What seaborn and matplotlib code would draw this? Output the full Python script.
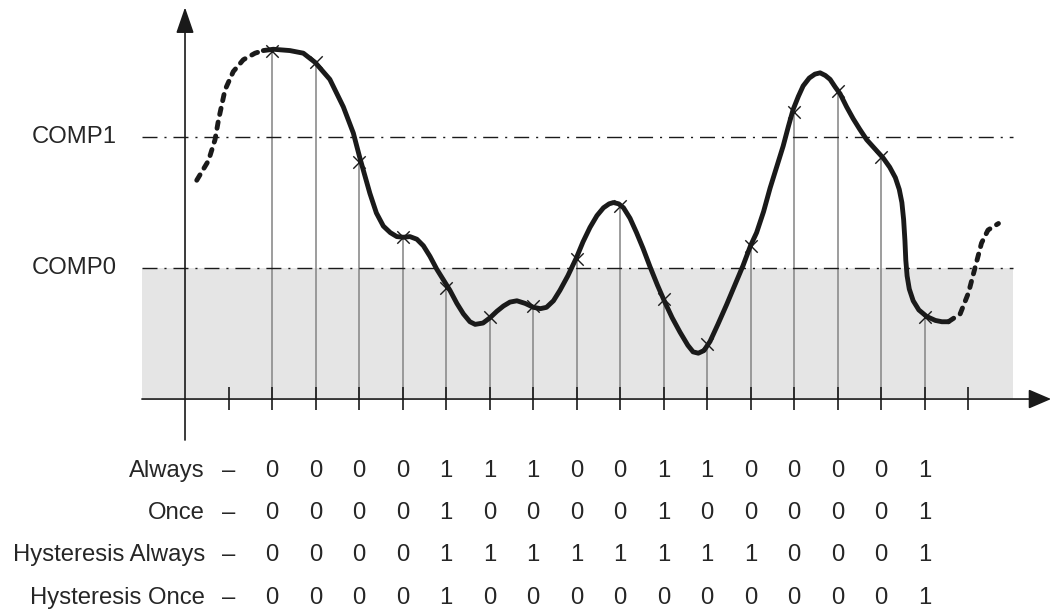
import matplotlib.pyplot as plt
import seaborn as sns

# sample instants (tick index) and sampled level, in units where COMP0 = 1, COMP1 = 2
sample_idx = list(range(2, 18))
sample_val = [2.66, 2.57, 1.81, 1.24, 0.85, 0.63, 0.71, 1.07,
              1.47, 0.76, 0.42, 1.17, 2.19, 2.35, 1.85, 0.63]

# traced analog signal: dashed lead-in, solid part, dashed lead-out
lead_in_x = [0.27, 0.54, 0.69, 0.77, 0.92, 1.11, 1.34, 1.61, 1.80]
lead_in_y = [1.67, 1.82, 1.98, 2.13, 2.36, 2.50, 2.59, 2.64, 2.66]

signal_x = [1.80, 2.03, 2.41, 2.72, 2.99, 3.33, 3.64, 3.87, 4.02, 4.25,
            4.40, 4.56, 4.72, 4.87, 5.02, 5.17, 5.33, 5.48, 5.63, 5.79,
            6.09, 6.25, 6.40, 6.55, 6.67, 6.85, 7.01, 7.17, 7.32, 7.47,
            7.63, 7.82, 8.01, 8.17, 8.31, 8.47, 8.62, 8.80, 9.00, 9.15,
            9.31, 9.47, 9.62, 9.75, 9.85, 9.97, 10.08, 10.23, 10.38, 10.53,
            10.69, 10.86, 11.03, 11.20, 11.38, 11.56, 11.68, 11.80, 11.93, 12.07,
            12.25, 12.45, 12.64, 12.83, 13.00, 13.14, 13.30, 13.45, 13.60, 13.75,
            13.87, 13.98, 14.10, 14.21, 14.35, 14.48, 14.60, 14.72, 14.83, 14.95,
            15.06, 15.21, 15.36, 15.51, 15.67, 15.86, 16.05, 16.20, 16.33, 16.42,
            16.48, 16.52, 16.55, 16.57, 16.60, 16.65, 16.74, 16.87, 17.05, 17.25,
            17.40, 17.55]
signal_y = [2.66, 2.67, 2.66, 2.64, 2.57, 2.44, 2.23, 2.03, 1.84, 1.57,
            1.42, 1.32, 1.27, 1.24, 1.235, 1.24, 1.22, 1.17, 1.09, 0.99,
            0.83, 0.73, 0.65, 0.59, 0.57, 0.58, 0.62, 0.67, 0.71, 0.74,
            0.75, 0.73, 0.70, 0.69, 0.70, 0.75, 0.83, 0.94, 1.08, 1.20,
            1.31, 1.40, 1.46, 1.49, 1.50, 1.49, 1.46, 1.38, 1.27, 1.15,
            1.01, 0.87, 0.74, 0.62, 0.51, 0.41, 0.36, 0.35, 0.37, 0.44,
            0.57, 0.72, 0.87, 1.02, 1.17, 1.27, 1.43, 1.61, 1.77, 1.93,
            2.08, 2.21, 2.31, 2.39, 2.45, 2.48, 2.49, 2.47, 2.44, 2.38,
            2.33, 2.23, 2.14, 2.06, 1.98, 1.91, 1.84, 1.77, 1.69, 1.60,
            1.50, 1.37, 1.21, 1.06, 0.94, 0.84, 0.75, 0.68, 0.63, 0.60,
            0.59, 0.59]

lead_out_x = [17.55, 17.82, 18.01, 18.16, 18.31, 18.46, 18.70]
lead_out_y = [0.59, 0.65, 0.81, 1.00, 1.19, 1.29, 1.34]

thresholds = ['COMP0', 'COMP1']
threshold_val = [1.0, 2.0]

modes = ['Always', 'Once', 'Hysteresis Always', 'Hysteresis Once']
always = [0, 0, 0, 0, 1, 1, 1, 0, 0, 1, 1, 0, 0, 0, 0, 1]
once = [0, 0, 0, 0, 1, 0, 0, 0, 0, 1, 0, 0, 0, 0, 0, 1]
hyst_always = [0, 0, 0, 0, 1, 1, 1, 1, 1, 1, 1, 1, 0, 0, 0, 1]
hyst_once = [0, 0, 0, 0, 1, 0, 0, 0, 0, 0, 0, 0, 0, 0, 0, 1]
mode_bits = [always, once, hyst_always, hyst_once]

# figure / layout
sns.set_theme(style='white')
plt.rcParams['font.family'] = ['Liberation Sans', 'DejaVu Sans']
FS = 17.2

fig = plt.figure(figsize=(10.52, 6.11), dpi=100)
ax = fig.add_axes([0, 0, 1, 1])
ax.set_xlim(-4.253, 19.931)
ax.set_ylim(-1.618, 3.046)
ax.set_axis_off()

x_left, x_right = -0.99, 19.03

# shaded "below COMP0" band and threshold lines
ax.fill_between([x_left, x_right], 0, threshold_val[0], color='#e5e5e5', lw=0, zorder=0)
for name, lvl in zip(thresholds, threshold_val):
    ax.plot([x_left, x_right], [lvl, lvl], color='k', lw=1.0,
            linestyle=(0, (10.8, 5, 1.5, 5)), zorder=2)
    ax.text(-1.563, lvl, name, ha='right', va='center', fontsize=FS)

# axes with arrows
arrow = dict(arrowstyle='-|>,head_length=1.4,head_width=0.6', color='k',
             lw=1.2, shrinkA=0, shrinkB=0, mutation_scale=10)
ax.annotate('', xy=(19.91, 0), xytext=(x_left, 0), arrowprops=arrow, zorder=3)
arrow_up = dict(arrow, arrowstyle='-|>,head_length=1.6,head_width=0.55')
ax.annotate('', xy=(0, 2.99), xytext=(0, -0.313), arrowprops=arrow_up, zorder=3)
ax.vlines(range(1, 19), -0.084, 0.092, color='k', lw=1.2, zorder=3)

# sample stems and markers
ax.vlines(sample_idx, 0, sample_val, color='#8c8c8c', lw=1.2, zorder=1)

dashed = dict(color='k', lw=3.5, linestyle=(0, (1.3, 1.6)), dash_capstyle='round', zorder=4)
sns.lineplot(x=lead_in_x, y=lead_in_y, sort=False, estimator=None, ax=ax, **dashed)
sns.lineplot(x=signal_x, y=signal_y, sort=False, estimator=None, ax=ax,
             color='k', lw=3.5, solid_capstyle='round', solid_joinstyle='round', zorder=4)
sns.lineplot(x=lead_out_x, y=lead_out_y, sort=False, estimator=None, ax=ax, **dashed)
sns.scatterplot(x=sample_idx, y=sample_val, marker='x', s=80, color='k',
                linewidth=1.0, ax=ax, zorder=5)

# result table
row_y = [-0.595, -0.916, -1.240, -1.561]
for label, bits, yy in zip(modes, mode_bits, row_y):
    ax.text(0.46, yy, label, ha='right', va='baseline', fontsize=FS)
    ax.text(1, yy, '\u2013', ha='center', va='baseline', fontsize=FS)
    for k, b in zip(sample_idx, bits):
        ax.text(k, yy, str(b), ha='center', va='baseline', fontsize=FS)

fig.savefig('out.png', dpi=100)
